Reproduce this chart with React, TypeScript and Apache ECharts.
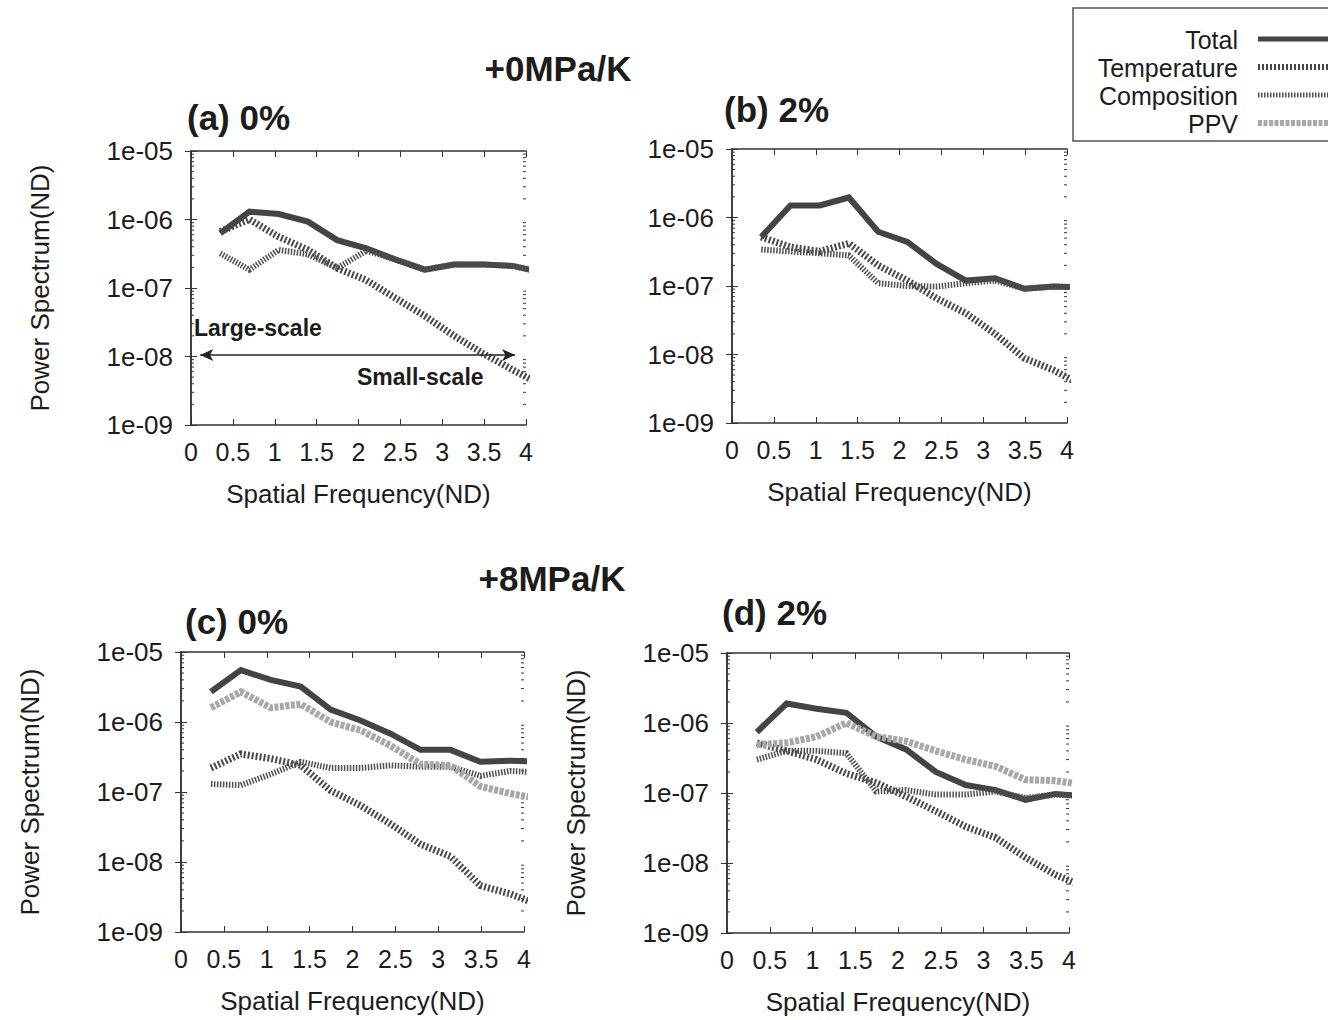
import React, { useEffect, useRef } from "react";
import * as echarts from "echarts";

// Spatial frequency of each spectral sample (ND); the last one lies beyond the axis and is clipped
const FREQ = [0.349, 0.698, 1.047, 1.396, 1.745, 2.094, 2.443, 2.793, 3.142, 3.491, 3.84, 4.189];

// (a) +0MPa/K, 0%
const A_TOTAL = [6.3e-7, 1.3e-6, 1.2e-6, 9.3e-7, 5.0e-7, 3.8e-7, 2.6e-7, 1.85e-7, 2.2e-7, 2.2e-7, 2.1e-7, 1.7e-7];
const A_TEMP = [6.7e-7, 1.0e-6, 5.6e-7, 3.6e-7, 1.95e-7, 1.3e-7, 7.1e-8, 3.9e-8, 2.0e-8, 1.1e-8, 6.4e-9, 3.8e-9];
const A_COMP = [3.2e-7, 1.85e-7, 3.6e-7, 3.1e-7, 1.95e-7, 3.5e-7, 2.6e-7, 1.85e-7, 2.2e-7, 2.2e-7, 2.1e-7, 1.7e-7];

// (b) +0MPa/K, 2%
const B_TOTAL = [5.2e-7, 1.5e-6, 1.5e-6, 1.96e-6, 6.2e-7, 4.4e-7, 2.1e-7, 1.2e-7, 1.3e-7, 9.1e-8, 9.8e-8, 9.5e-8];
const B_TEMP = [5.2e-7, 3.7e-7, 3.2e-7, 4.2e-7, 2.0e-7, 1.2e-7, 6.6e-8, 4.0e-8, 2.0e-8, 8.8e-9, 5.9e-9, 3.5e-9];
const B_COMP = [3.4e-7, 3.2e-7, 3.0e-7, 2.8e-7, 1.1e-7, 1.0e-7, 9.8e-8, 1.1e-7, 1.2e-7, 9.1e-8, 9.8e-8, 9.5e-8];

// (c) +8MPa/K, 0%
const C_TOTAL = [2.7e-6, 5.5e-6, 4.0e-6, 3.2e-6, 1.5e-6, 1.05e-6, 6.8e-7, 4.0e-7, 4.0e-7, 2.7e-7, 2.8e-7, 2.7e-7];
const C_TEMP = [2.2e-7, 3.5e-7, 3.0e-7, 2.4e-7, 1.05e-7, 6.4e-8, 3.5e-8, 1.8e-8, 1.2e-8, 4.6e-9, 3.5e-9, 2.4e-9];
const C_COMP = [1.3e-7, 1.25e-7, 1.8e-7, 2.7e-7, 2.2e-7, 2.2e-7, 2.4e-7, 2.3e-7, 2.3e-7, 1.7e-7, 2.0e-7, 1.9e-7];
const C_PPV = [1.6e-6, 2.7e-6, 1.6e-6, 1.8e-6, 1.0e-6, 7.6e-7, 4.6e-7, 2.5e-7, 2.4e-7, 1.2e-7, 9.5e-8, 8.0e-8];

// (d) +8MPa/K, 2%
const D_TOTAL = [7.4e-7, 1.9e-6, 1.6e-6, 1.4e-6, 6.4e-7, 4.2e-7, 2.0e-7, 1.3e-7, 1.1e-7, 8.0e-8, 9.7e-8, 9.0e-8];
const D_TEMP = [5.2e-7, 4.0e-7, 3.0e-7, 1.9e-7, 1.4e-7, 8.9e-8, 5.5e-8, 3.3e-8, 2.3e-8, 1.2e-8, 6.8e-9, 4.5e-9];
const D_COMP = [3.0e-7, 4.0e-7, 4.0e-7, 3.7e-7, 1.05e-7, 1.1e-7, 9.5e-8, 9.5e-8, 1.05e-7, 8.5e-8, 9.5e-8, 9.0e-8];
const D_PPV = [4.9e-7, 5.2e-7, 6.4e-7, 1.0e-6, 6.4e-7, 5.5e-7, 4.0e-7, 3.0e-7, 2.4e-7, 1.55e-7, 1.5e-7, 1.3e-7];

const SERIES_NAMES = ["Total", "Temperature", "Composition", "PPV"];
const PANEL_LABELS = ["(a) 0%", "(b) 2%", "(c) 0%", "(d) 2%"];
const GROUP_TITLES = ["+0MPa/K", "+8MPa/K"];
const X_NAME = "Spatial Frequency(ND)";
const Y_NAME = "Power Spectrum(ND)";
const Y_MIN = 1e-9;
const Y_MAX = 1e-5;
const MINOR_MULT = [2, 3, 4, 5, 6, 7, 8, 9];
const DECADES = [1e-9, 1e-8, 1e-7, 1e-6];

const PANEL_DATA = [
  { Total: A_TOTAL, Temperature: A_TEMP, Composition: A_COMP },
  { Total: B_TOTAL, Temperature: B_TEMP, Composition: B_COMP },
  { Total: C_TOTAL, Temperature: C_TEMP, Composition: C_COMP, PPV: C_PPV },
  { Total: D_TOTAL, Temperature: D_TEMP, Composition: D_COMP, PPV: D_PPV },
];

const FONT = '"Liberation Sans", Arial, Helvetica, sans-serif';
const INK = "#1c1c1c";
const FRAME = "#333333";

const GRIDS = [
  { left: 191, top: 151, width: 335, height: 274, yName: true },
  { left: 732, top: 149, width: 335, height: 274, yName: false },
  { left: 181, top: 652, width: 343, height: 280, yName: true },
  { left: 727, top: 653, width: 342, height: 280, yName: true },
];

const STYLES: Record<string, any> = {
  Total: { color: "#444444", width: 6, type: "solid" },
  Temperature: { color: "#4a4a4a", width: 7, type: [2, 2] },
  Composition: { color: "#505050", width: 6, type: [1.5, 1.5] },
  PPV: { color: "#a8a8a8", width: 7, type: [4, 1.5] },
};

const fmtExp = (v: number) => {
  const e = Math.round(Math.log10(v));
  return "1e" + (e < 0 ? "-" : "+") + String(Math.abs(e)).padStart(2, "0");
};

function buildOption() {
  const minorTicks: number[] = [];
  DECADES.forEach((d) => MINOR_MULT.forEach((m) => minorTicks.push(m * d)));

  const xAxis: any[] = [];
  const yAxis: any[] = [];
  const series: any[] = [];
  const lineFrame = { show: true, lineStyle: { color: FRAME, width: 1.5 } };
  const tickStyle = { inside: true, length: 6, lineStyle: { color: FRAME, width: 1 } };

  GRIDS.forEach((g, p) => {
    xAxis.push({
      type: "value",
      gridIndex: p,
      min: 0,
      max: 4,
      interval: 0.5,
      position: "bottom",
      axisLine: lineFrame,
      axisTick: tickStyle,
      splitLine: { show: false },
      axisLabel: { fontSize: 25, color: INK, margin: 14, fontFamily: FONT },
      name: X_NAME,
      nameLocation: "middle",
      nameGap: 56,
      nameTextStyle: { fontSize: 26, color: INK, fontFamily: FONT },
    });
    xAxis.push({
      type: "value",
      gridIndex: p,
      min: 0,
      max: 4,
      interval: 0.5,
      position: "top",
      axisLine: lineFrame,
      axisTick: tickStyle,
      splitLine: { show: false },
      axisLabel: { show: false },
    });
    yAxis.push({
      type: "log",
      logBase: 10,
      gridIndex: p,
      min: Y_MIN,
      max: Y_MAX,
      splitNumber: 4,
      position: "left",
      axisLine: lineFrame,
      axisTick: tickStyle,
      splitLine: { show: false },
      axisLabel: { fontSize: 26, color: INK, margin: 18, fontFamily: FONT, formatter: fmtExp },
      name: g.yName ? Y_NAME : "",
      nameLocation: "middle",
      nameGap: 138,
      nameTextStyle: { fontSize: 26, color: INK, fontFamily: FONT },
    });
    yAxis.push({
      type: "log",
      logBase: 10,
      gridIndex: p,
      min: Y_MIN,
      max: Y_MAX,
      splitNumber: 4,
      position: "right",
      axisLine: lineFrame,
      axisTick: tickStyle,
      splitLine: { show: false },
      axisLabel: { show: false },
    });

    const data: any = PANEL_DATA[p];
    SERIES_NAMES.forEach((name, si) => {
      const vals = data[name];
      if (!vals) return;
      const st = STYLES[name];
      const s: any = {
        type: "line",
        name,
        xAxisIndex: 2 * p,
        yAxisIndex: 2 * p,
        data: FREQ.map((f, i) => [f, vals[i]]),
        symbol: "none",
        clip: true,
        silent: true,
        z: 2 + si,
        lineStyle: { color: st.color, width: st.width, type: st.type, cap: "butt", join: "miter" },
      };
      if (p === 0 && name === "Total") {
        s.markLine = {
          silent: true,
          symbol: ["arrow", "arrow"],
          symbolSize: [9, 13],
          label: { show: false },
          lineStyle: { color: "#222", width: 1.5, type: "solid" },
          data: [[{ coord: [0.11, 1.05e-8] }, { coord: [3.87, 1.05e-8] }]],
        };
      }
      series.push(s);
    });

    series.push({
      type: "custom",
      xAxisIndex: 2 * p,
      yAxisIndex: 2 * p,
      silent: true,
      z: 1,
      data: minorTicks.map((v) => [0, v]),
      renderItem: (params: any, api: any) => {
        const cs = params.coordSys;
        const y = api.coord([0, api.value(1)])[1];
        const st = { stroke: FRAME, lineWidth: 1 };
        return {
          type: "group",
          children: [
            { type: "line", shape: { x1: cs.x, y1: y, x2: cs.x + 3, y2: y }, style: st },
            { type: "line", shape: { x1: cs.x + cs.width - 3, y1: y, x2: cs.x + cs.width, y2: y }, style: st },
          ],
        };
      },
    });
  });

  const bold = { fontFamily: FONT, fontWeight: "bold", fill: INK };
  const legendRows = [
    { name: SERIES_NAMES[0], y: 40 },
    { name: SERIES_NAMES[1], y: 68 },
    { name: SERIES_NAMES[2], y: 96 },
    { name: SERIES_NAMES[3], y: 124 },
  ];

  const graphic: any[] = [
    { type: "text", x: 558, y: 68, style: { ...bold, text: GROUP_TITLES[0], fontSize: 35, align: "center", verticalAlign: "middle" } },
    { type: "text", x: 552, y: 578, style: { ...bold, text: GROUP_TITLES[1], fontSize: 35, align: "center", verticalAlign: "middle" } },
    { type: "text", x: 187, y: 117, style: { ...bold, text: PANEL_LABELS[0], fontSize: 35, align: "left", verticalAlign: "middle" } },
    { type: "text", x: 724, y: 109, style: { ...bold, text: PANEL_LABELS[1], fontSize: 35, align: "left", verticalAlign: "middle" } },
    { type: "text", x: 185, y: 621, style: { ...bold, text: PANEL_LABELS[2], fontSize: 35, align: "left", verticalAlign: "middle" } },
    { type: "text", x: 722, y: 612, style: { ...bold, text: PANEL_LABELS[3], fontSize: 35, align: "left", verticalAlign: "middle" } },
    { type: "text", x: 194, y: 328, style: { ...bold, text: "Large-scale", fontSize: 23, align: "left", verticalAlign: "middle" } },
    { type: "text", x: 357, y: 377, style: { ...bold, text: "Small-scale", fontSize: 23, align: "left", verticalAlign: "middle" } },
    { type: "rect", shape: { x: 1073, y: 8, width: 280, height: 133 }, style: { fill: "#fff", stroke: "#555", lineWidth: 1.5 }, z: 10 },
  ];
  legendRows.forEach((r) => {
    const st = STYLES[r.name];
    graphic.push({
      type: "text",
      x: 1238,
      y: r.y,
      z: 11,
      style: {
        text: r.name,
        fontFamily: FONT,
        fontSize: 25,
        lineHeight: 25,
        fill: INK,
        align: "right",
        verticalAlign: "middle",
      },
    });
    graphic.push({
      type: "line",
      z: 11,
      shape: { x1: 1258, y1: r.y - 1, x2: 1340, y2: r.y - 1 },
      style: {
        stroke: st.color,
        lineWidth: st.width - 1,
        lineDash: Array.isArray(st.type) ? st.type : null,
        lineCap: "butt",
      },
    });
  });

  return {
    animation: false,
    backgroundColor: "#ffffff",
    textStyle: { fontFamily: FONT },
    grid: GRIDS.map((g) => ({ left: g.left, top: g.top, width: g.width, height: g.height, containLabel: false })),
    xAxis,
    yAxis,
    series,
    graphic,
  };
}

export default function App() {
  const ref = useRef<HTMLDivElement>(null);
  useEffect(() => {
    if (!ref.current) return;
    const chart = echarts.init(ref.current, undefined, { renderer: "svg" });
    chart.setOption(buildOption() as any);
    return () => chart.dispose();
  }, []);
  return (
    <div
      ref={ref}
      style={{ position: "fixed", left: 0, top: 0, width: 1328, height: 1020, background: "#fff" }}
    />
  );
}
